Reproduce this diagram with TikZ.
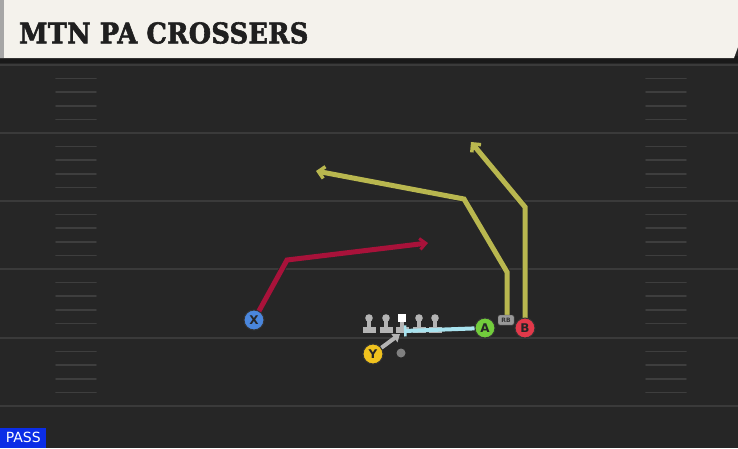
\documentclass[tikz,border=0pt]{standalone}
\usepackage{fontspec}
\setmainfont{DejaVu Sans}
\newfontfamily\titlefont[FakeBold=2,LetterSpace=1]{DejaVu Serif Condensed}
\usetikzlibrary{arrows.meta}
\definecolor{field}{HTML}{262626}
\definecolor{yardc}{HTML}{3A3A3A}
\definecolor{hashc}{HTML}{3E3E3E}
\definecolor{headc}{HTML}{F4F2EC}
\definecolor{routered}{HTML}{A8123A}
\definecolor{routeolive}{HTML}{B9B74F}
\definecolor{blockblue}{HTML}{A9E3EF}
\definecolor{pgray}{HTML}{B4B4B4}
\definecolor{xblue}{HTML}{4A86DC}
\definecolor{yyellow}{HTML}{F0C21E}
\definecolor{agreen}{HTML}{72CC3C}
\definecolor{bred}{HTML}{E2394A}
\definecolor{passblue}{HTML}{0B2DE6}
\tikzset{
  x=1pt,y=-1pt,
  player/.style={circle,draw=black!80,line width=1pt,minimum size=20pt,inner sep=0pt,font=\bfseries\fontsize{12}{12}\selectfont,text=black!85},
  route/.style={line width=5pt,line cap=butt,line join=miter},
  outline/.style={line width=6.6pt,draw=black!85,line join=miter},
  yard/.style={draw=yardc,line width=2pt},
  hash/.style={draw=hashc,line width=1.6pt,line cap=round},
}
\newcommand{\lman}[2]{%
  \fill[pgray] (#1,#2) circle (3.8);
  \fill[pgray] (#1-2.2,#2) rectangle (#1+2.2,#2+10);
  \fill[pgray] (#1-6.5,#2+9) rectangle (#1+6.5,#2+14.5);
}
\begin{document}
\begin{tikzpicture}
\useasboundingbox (0,0) rectangle (738,448);
\fill[field] (0,0) rectangle (738,448);
% header
\fill[black!90] (0,56) rectangle (738,63);
\fill[headc] (0,0) -- (738,0) -- (738,47) -- (734,58) -- (0,58) -- cycle;
\fill[black!35] (0,0) rectangle (4,58);
\node[anchor=west,inner sep=0pt,text=black!88] (title) at (19,33)
  {\titlefont\bfseries\fontsize{28.5}{28.5}\selectfont MTN PA CROSSERS};
% yard lines
\foreach \yy in {65,133,201,269,338,406}{\draw[yard] (0,\yy) -- (738,\yy);}
% hash marks
\foreach \base in {65,133,201,269,338}{
  \foreach \k in {1,2,3,4}{
    \draw[hash] (56,\base+13.6*\k) -- (96,\base+13.6*\k);
    \draw[hash] (646,\base+13.6*\k) -- (686,\base+13.6*\k);
  }
}
% coordinates
\coordinate (xs) at (254,320);
\coordinate (xk) at (287,260);
\coordinate (xe) at (428,243);
\coordinate (rbs) at (507,315);
\coordinate (rb1) at (507,272);
\coordinate (rb2) at (464,199);
\coordinate (rbe) at (316,171);
\coordinate (bs) at (525,318);
\coordinate (b1) at (525,207);
\coordinate (be) at (471,142);
\coordinate (blk) at (404,331);
\coordinate (ye) at (400,334);
% routes
\draw[outline] (xs) -- (xk) -- (xe);
\draw[route,routered,-{Straight Barb[length=6pt,width=11pt,line width=3pt]}] (xs) -- (xk) -- (xe);
\draw[outline] (rbs) -- (rb1) -- (rb2) -- (rbe);
\draw[route,routeolive,-{Straight Barb[length=6pt,width=12pt,line width=3.5pt]}] (rbs) -- (rb1) -- (rb2) -- (rbe);
\draw[outline] (bs) -- (b1) -- (be);
\draw[route,routeolive,-{Straight Barb[length=6pt,width=12pt,line width=3.5pt]}] (bs) -- (b1) -- (be);
% linemen
\lman{369}{318}
\lman{386}{318}
\lman{419}{318}
\lman{435}{318}
\fill[pgray] (400,322) rectangle (404,328);
\fill[pgray] (395.5,327) rectangle (408.5,332.5);
\fill[white] (398,314) rectangle (406,322);
% QB
\fill[black!50] (401,353) circle (4.5);
% players
\node[player,fill=xblue] (X) at (xs) {X};
\node[player,fill=yyellow] (Y) at (373,354) {Y};
\node[player,fill=agreen] (A) at (485,328) {A};
\node[player,fill=bred] (B) at (525,328) {B};
\node[fill=black!40,draw=black!70,line width=0.4pt,rounded corners=1.5pt,minimum width=16pt,minimum height=10pt,inner sep=0pt,font=\bfseries\fontsize{6}{6}\selectfont,text=black!80] (RB) at (506,320) {RB};
% block
\draw[blockblue,line width=4pt,-{Bar[width=11pt,line width=2.5pt]}] (A) -- (blk);
\draw[pgray,line width=4pt,-{Triangle[length=7pt,width=10pt]}] (Y) -- (ye);
% PASS
\node[fill=passblue,anchor=south west,inner sep=0pt,minimum width=46pt,minimum height=20pt,text=white,font=\fontsize{14}{14}\selectfont] (pass) at (0,448) {PASS};
\end{tikzpicture}
\end{document}
